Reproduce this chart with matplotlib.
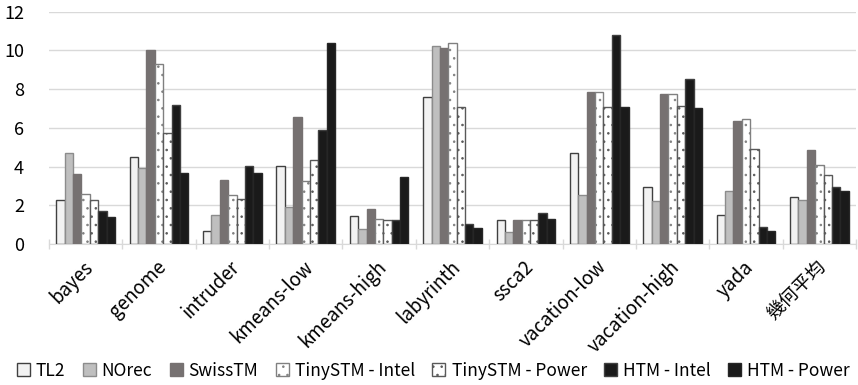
import matplotlib
matplotlib.use("Agg")
import matplotlib.pyplot as plt
import matplotlib.transforms as mtransforms
import numpy as np

plt.rcParams['font.family'] = ['Noto Sans CJK TC', 'DejaVu Sans']
plt.rcParams['hatch.linewidth'] = 0.6

categories = ["bayes", "genome", "intruder", "kmeans-low", "kmeans-high", "labyrinth",
              "ssca2", "vacation-low", "vacation-high", "yada", "幾何平均"]
series_names = ["TL2", "NOrec", "SwissTM", "TinySTM - Intel", "TinySTM - Power",
                "HTM - Intel", "HTM - Power"]
tl2 = [2.27, 4.52, 0.69, 4.02, 1.43, 7.58, 1.24, 4.68, 2.96, 1.48, 2.44]
norec = [4.68, 3.95, 1.50, 1.93, 0.76, 10.21, 0.64, 2.53, 2.20, 2.73, 2.29]
swisstm = [3.61, 10.02, 3.30, 6.58, 1.82, 10.14, 1.25, 7.86, 7.75, 6.33, 4.83]
tinystm_intel = [2.58, 9.30, 2.53, 3.23, 1.27, 10.38, 1.25, 7.86, 7.74, 6.46, 4.07]
tinystm_power = [2.27, 5.72, 2.30, 4.33, 1.22, 7.10, 1.24, 7.08, 7.13, 4.90, 3.58]
htm_intel = [1.70, 7.19, 4.02, 5.91, 1.25, 1.03, 1.58, 10.78, 8.53, 0.88, 2.94]
htm_power = [1.41, 3.66, 3.66, 10.38, 3.46, 0.81, 1.29, 7.10, 7.05, 0.67, 2.72]
yticks = [0, 2, 4, 6, 8, 10, 12]

series = [tl2, norec, swisstm, tinystm_intel, tinystm_power, htm_intel, htm_power]
styles = [
    dict(facecolor="#f2f2f2", edgecolor="#404040", hatch=None),
    dict(facecolor="#bfbfbf", edgecolor="#8c8c8c", hatch=None),
    dict(facecolor="#767171", edgecolor="#767171", hatch=None),
    dict(facecolor="#ffffff", edgecolor="#808080", hatch=".."),
    dict(facecolor="#ffffff", edgecolor="#595959", hatch=".."),
    dict(facecolor="#1a1a1a", edgecolor="#404040", hatch=None),
    dict(facecolor="#1a1a1a", edgecolor="#262626", hatch=None),
]

fig = plt.figure(figsize=(8.58, 3.85), dpi=100)
ax = fig.add_axes([49/858, 1-244/385, (856-49)/858, (244-11.7)/385])

x = np.arange(len(categories))
n = len(series)
w = 0.8 / n
for i, (vals, st) in enumerate(zip(series, styles)):
    b = ax.bar(x + (i - (n-1)/2) * w, vals, w, facecolor=st["facecolor"],
               edgecolor=st["edgecolor"], linewidth=1.0, label=series_names[i],
               zorder=3)
    if st["hatch"]:
        for p in b:
            p.set_hatch(st["hatch"])

ax.set_xlim(-0.5, len(categories) - 0.5)
ax.set_ylim(0, 12)
ax.set_yticks(yticks)
ax.set_yticklabels([str(v) for v in yticks], fontsize=13)
ax.tick_params(axis='y', length=0, pad=18)
ax.grid(axis='y', color="#d9d9d9", linewidth=1.0, zorder=0)
for s in ["top", "right", "left"]:
    ax.spines[s].set_visible(False)
ax.spines["bottom"].set_color("#d9d9d9")

ax.set_xticks(x)
ax.set_xticklabels(categories, rotation=45, ha='right', rotation_mode='anchor', fontsize=13.5)
ax.tick_params(axis='x', which='major', length=0, pad=9)
offset = mtransforms.ScaledTranslation(-3/100, 0, fig.dpi_scale_trans)
for lbl in ax.get_xticklabels():
    lbl.set_transform(lbl.get_transform() + offset)
ax.set_xticks(np.arange(-0.5, len(categories), 1.0), minor=True)
ax.tick_params(axis='x', which='minor', length=7, direction='inout', color="#d9d9d9", width=1)

handles, labels = ax.get_legend_handles_labels()
fig.legend(handles, labels, loc='lower center', bbox_to_anchor=(0.505, -0.027), ncol=7,
           frameon=False, fontsize=12.5, handlelength=0.75, handleheight=0.75,
           handletextpad=0.35, columnspacing=1.0)

fig.savefig("out.png", dpi=100)
